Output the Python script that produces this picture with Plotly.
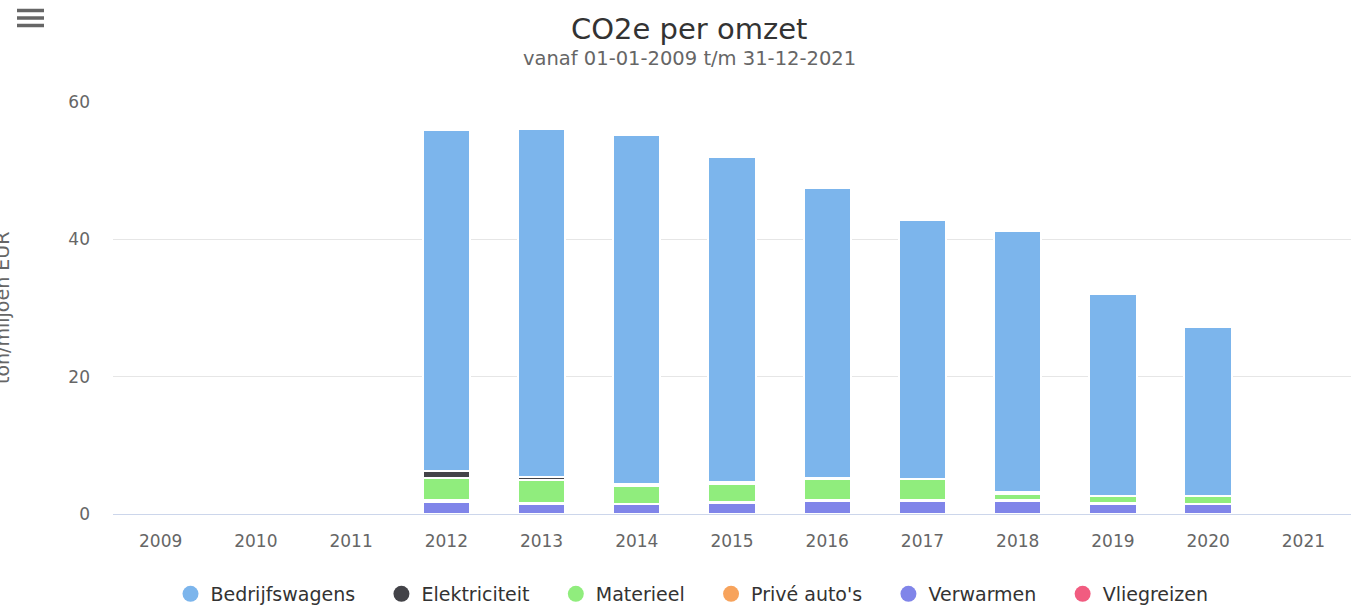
import plotly.graph_objects as go

years = [str(y) for y in range(2009, 2022)]

bedrijfswagens = [None, None, None, 49.65, 50.75, 50.8, 47.4, 42.2, 37.75, 38.05, 29.4, 24.75, None]
elektriciteit  = [None, None, None, 1.05, 0.45, 0.2, 0.2, 0.2, 0.0, 0.2, 0.0, 0.0, None]
materieel      = [None, None, None, 3.2, 3.3, 2.75, 2.6, 3.05, 3.0, 0.9, 1.0, 1.15, None]
prive_autos    = [None, None, None, 0.2, 0.2, 0.0, 0.2, 0.2, 0.2, 0.2, 0.2, 0.0, None]
verwarmen      = [None, None, None, 1.8, 1.4, 1.4, 1.6, 1.85, 1.85, 1.85, 1.4, 1.4, None]
vliegreizen    = [None, None, None, 0.0, 0.0, 0.0, 0.0, 0.0, 0.0, 0.0, 0.0, 0.0, None]

series_names = ["Bedrijfswagens", "Elektriciteit", "Materieel", "Privé auto's", "Verwarmen", "Vliegreizen"]
series_values = [bedrijfswagens, elektriciteit, materieel, prive_autos, verwarmen, vliegreizen]
colors = ["#7cb5ec", "#434348", "#90ed7d", "#f7a35c", "#8085e9", "#f15c80"]

FONT = "DejaVu Sans"

fig = go.Figure()

# stacked bars: first series on top (Highcharts order), so add in reverse
for name, vals, col in reversed(list(zip(series_names, series_values, colors))):
    fig.add_trace(go.Bar(
        x=years, y=vals, name=name, legendgroup=name, showlegend=False,
        marker=dict(color=col, line=dict(color="white", width=2)),
    ))

# legend entries with round markers
PAD = "\u00a0\u00a0\u00a0\u2006"
for i, (name, col) in enumerate(zip(series_names, colors)):
    label = name + (PAD if i < len(series_names) - 1 else "")
    fig.add_trace(go.Scatter(
        x=[None], y=[None], mode="markers", name=label, legendgroup=name,
        marker=dict(color=col, size=16, symbol="circle"),
    ))

W, H = 1357, 608
ML, MR, MT, MB = 113, 6, 102, 94
PW = W - ML - MR
PH = H - MT - MB

def px_x(px):
    return (px - ML) / PW

def px_y(py):
    return (H - MB - py) / PH

annotations = [
    dict(text="CO2e per omzet", x=px_x(689), y=px_y(29), xref="paper", yref="paper",
         xanchor="center", yanchor="middle", showarrow=False,
         font=dict(family=FONT, size=29, color="#333333")),
    dict(text="vanaf 01-01-2009 t/m 31-12-2021", x=px_x(689), y=px_y(59), xref="paper", yref="paper",
         xanchor="center", yanchor="middle", showarrow=False,
         font=dict(family=FONT, size=19.5, color="#666666")),
    dict(text="ton/miljoen EUR", x=px_x(2), y=0.5, xref="paper", yref="paper",
         xanchor="center", yanchor="middle", showarrow=False, textangle=-90,
         font=dict(family=FONT, size=19, color="#666666")),
]

shapes = []
for off in [10.5, 18, 25.5]:
    shapes.append(dict(type="line", xref="paper", yref="paper",
                       xsizemode="pixel", ysizemode="pixel",
                       xanchor=0, yanchor=1,
                       x0=17 - ML, x1=44 - ML, y0=MT - off, y1=MT - off,
                       line=dict(color="#666666", width=3.5)))

fig.update_layout(
    width=W, height=H,
    margin=dict(l=ML, r=MR, t=MT, b=MB, pad=0, autoexpand=False),
    barmode="stack",
    bargap=0.503,
    plot_bgcolor="white",
    paper_bgcolor="white",
    font=dict(family=FONT, color="#666666"),
    showlegend=True,
    legend=dict(orientation="h", x=px_x(692), xanchor="center", y=px_y(594), yanchor="middle",
                font=dict(family=FONT, size=19, color="#333333"), itemsizing="trace",
                traceorder="normal"),
    annotations=annotations,
    shapes=shapes,
    xaxis=dict(type="category", categoryorder="array", categoryarray=years,
               showgrid=False, showline=True, linecolor="#ccd6eb", linewidth=1,
               ticks="", tickfont=dict(family=FONT, size=17, color="#666666"),
               ticklabelstandoff=12, fixedrange=True),
    yaxis=dict(range=[0, 60], tickvals=[0, 20, 40, 60], showgrid=True, gridcolor="#e6e6e6",
               gridwidth=1, zeroline=False, showline=False, ticks="",
               tickfont=dict(family=FONT, size=17, color="#666666"),
               ticklabelstandoff=22, fixedrange=True),
)

fig.write_html("out.html", config={"displayModeBar": False},
               post_script="document.body.style.margin='0';")
